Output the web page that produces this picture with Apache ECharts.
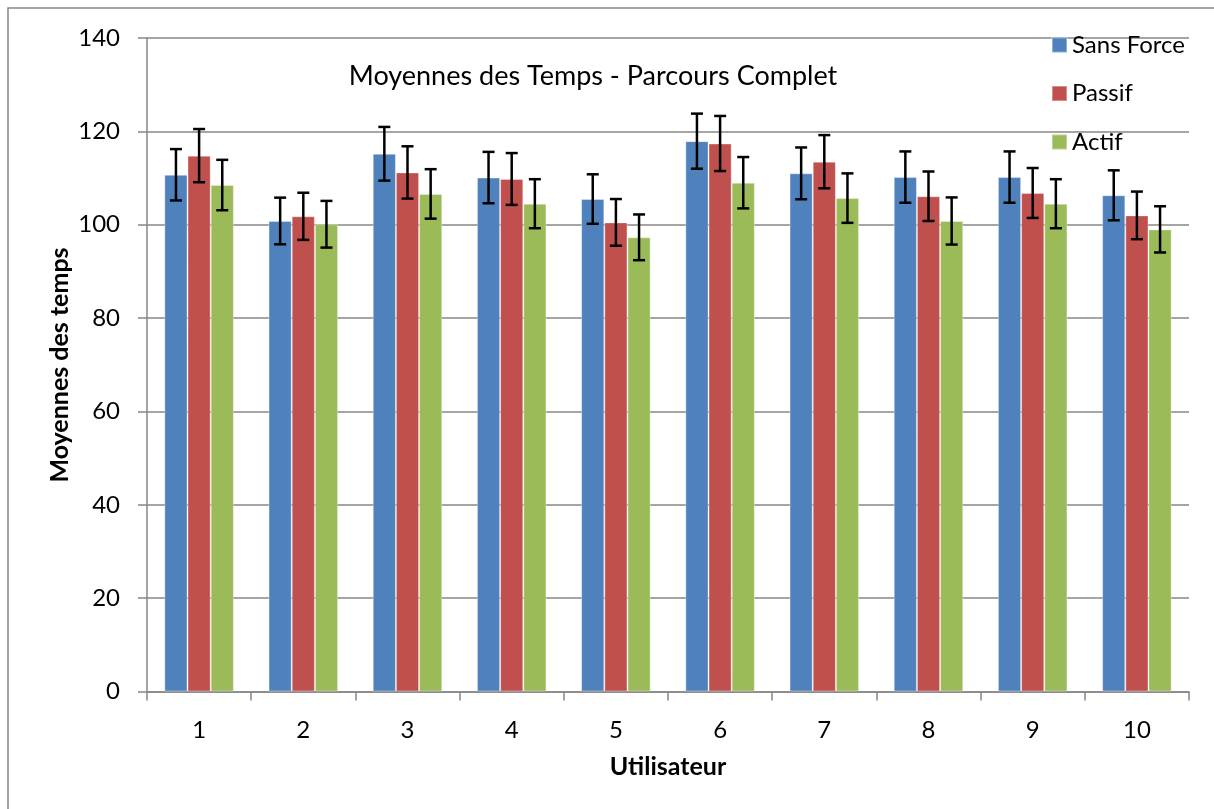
<!DOCTYPE html>
<html>
<head>
<meta charset="utf-8">
<style>
  html, body { margin: 0; padding: 0; background: #fff; }
  #chart { width: 1214px; height: 809px; }
</style>
<script src="https://cdn.jsdelivr.net/npm/echarts@6/dist/echarts.min.js"></script>
</head>
<body>
<div id="chart"></div>
<script>
// Mean completion times per user, for three force-feedback conditions
const users = ['1', '2', '3', '4', '5', '6', '7', '8', '9', '10'];
const seriesNames = ['Sans Force', 'Passif', 'Actif'];
const sansForce = [110.7, 100.8, 115.2, 110.1, 105.5, 117.9, 111.0, 110.2, 110.2, 106.3];
const passif    = [114.8, 101.8, 111.2, 109.8, 100.5, 117.4, 113.5, 106.1, 106.8, 102.0];
const actif     = [108.5, 100.1, 106.6, 104.5,  97.3, 109.0, 105.7, 100.8, 104.5,  99.0];
// Half-width of the error bars (± around each mean)
const errSansForce = [5.5, 5.0, 5.75, 5.5, 5.3, 5.9, 5.55, 5.5, 5.5, 5.35];
const errPassif    = [5.7, 5.05, 5.6, 5.55, 5.0, 5.9, 5.7, 5.3, 5.35, 5.1];
const errActif     = [5.4, 5.0, 5.3, 5.25, 4.9, 5.5, 5.3, 5.05, 5.25, 4.95];

const colors = ['#4F81BD', '#C0504D', '#9BBB59'];
const means = [sansForce, passif, actif];
const errs = [errSansForce, errPassif, errActif];
const FONT = 'Lato, "Open Sans", sans-serif';
const CAT_GAP = 1 / 3; // barCategoryGap share

const chart = echarts.init(document.getElementById('chart'), null, { renderer: 'canvas' });

const barSeries = seriesNames.map((name, i) => ({
  name,
  type: 'bar',
  data: means[i],
  barGap: 0,
  barCategoryGap: '33.3%',
  itemStyle: { color: colors[i], borderColor: 'rgba(255,255,255,0.35)', borderWidth: 1 },
  emphasis: { disabled: true },
  z: 2
}));

// Error bars drawn over the bars, offset to sit at the centre of each bar
const errorSeries = seriesNames.map((name, i) => ({
  type: 'custom',
  name: name + '-err',
  data: means[i].map((m, k) => [k, m - errs[i][k], m + errs[i][k]]),
  encode: { x: 0, y: [1, 2] },
  z: 5,
  silent: true,
  renderItem: function (params, api) {
    const k = api.value(0);
    const lo = api.coord([k, api.value(1)]);
    const hi = api.coord([k, api.value(2)]);
    const band = api.size([1, 0])[0];
    const barW = band * (1 - CAT_GAP) / 3;
    const x = lo[0] + (i - 1) * barW;
    const half = 6;
    const style = { stroke: '#000', lineWidth: 2.5 };
    return {
      type: 'group',
      children: [
        { type: 'line', shape: { x1: x, y1: lo[1], x2: x, y2: hi[1] }, style },
        { type: 'line', shape: { x1: x - half, y1: hi[1], x2: x + half, y2: hi[1] }, style },
        { type: 'line', shape: { x1: x - half, y1: lo[1], x2: x + half, y2: lo[1] }, style }
      ]
    };
  }
}));

const option = {
  animation: false,
  backgroundColor: '#ffffff',
  color: colors,
  title: {
    text: 'Moyennes des Temps - Parcours Complet',
    left: 588,
    top: 58,
    textAlign: 'center',
    textStyle: { fontFamily: FONT, fontSize: 27, fontWeight: 'normal', color: '#000' }
  },
  legend: {
    data: seriesNames,
    orient: 'vertical',
    left: 1051,
    top: 33,
    padding: 0,
    itemWidth: 15,
    itemHeight: 15,
    itemGap: 24.5,
    itemTextGap: 7,
    icon: 'rect',
    textStyle: { fontFamily: FONT, fontSize: 24, color: '#000', lineHeight: 24, padding: [0, 0, 0, 0] },
    selectedMode: false
  },
  grid: { left: 147, right: 25, top: 38, bottom: 117.5 },
  xAxis: {
    type: 'category',
    data: users,
    axisLine: { lineStyle: { color: '#878787', width: 1.5 } },
    axisTick: { show: true, length: 9, lineStyle: { color: '#878787', width: 1.5 } },
    axisLabel: { fontFamily: FONT, fontSize: 24, color: '#000', margin: 27 }
  },
  yAxis: {
    type: 'value',
    min: 0,
    max: 140,
    interval: 20,
    axisLine: { show: true, lineStyle: { color: '#878787', width: 1.5 } },
    axisTick: { show: true, length: 9, inside: false, lineStyle: { color: '#878787', width: 1.5 } },
    axisLabel: { fontFamily: FONT, fontSize: 24, color: '#000', margin: 27 },
    splitLine: { show: true, lineStyle: { color: '#878787', width: 1.5 } }
  },
  graphic: [
    {
      type: 'rect',
      shape: { x: 8, y: 8, width: 1230, height: 830 },
      style: { fill: 'none', stroke: '#888888', lineWidth: 1.5 },
      silent: true
    },
    {
      type: 'text',
      x: 60,
      y: 365,
      rotation: Math.PI / 2,
      style: {
        text: 'Moyennes des temps',
        fontFamily: FONT,
        fontSize: 25,
        fontWeight: 'bold',
        fill: '#000',
        align: 'center',
        verticalAlign: 'middle'
      }
    },
    {
      type: 'text',
      x: 668,
      y: 767,
      style: {
        text: 'Utilisateur',
        fontFamily: FONT,
        fontSize: 25,
        fontWeight: 'bold',
        fill: '#000',
        align: 'center',
        verticalAlign: 'middle'
      }
    }
  ],
  series: [...barSeries, ...errorSeries]
};

chart.setOption(option);
</script>
</body>
</html>
